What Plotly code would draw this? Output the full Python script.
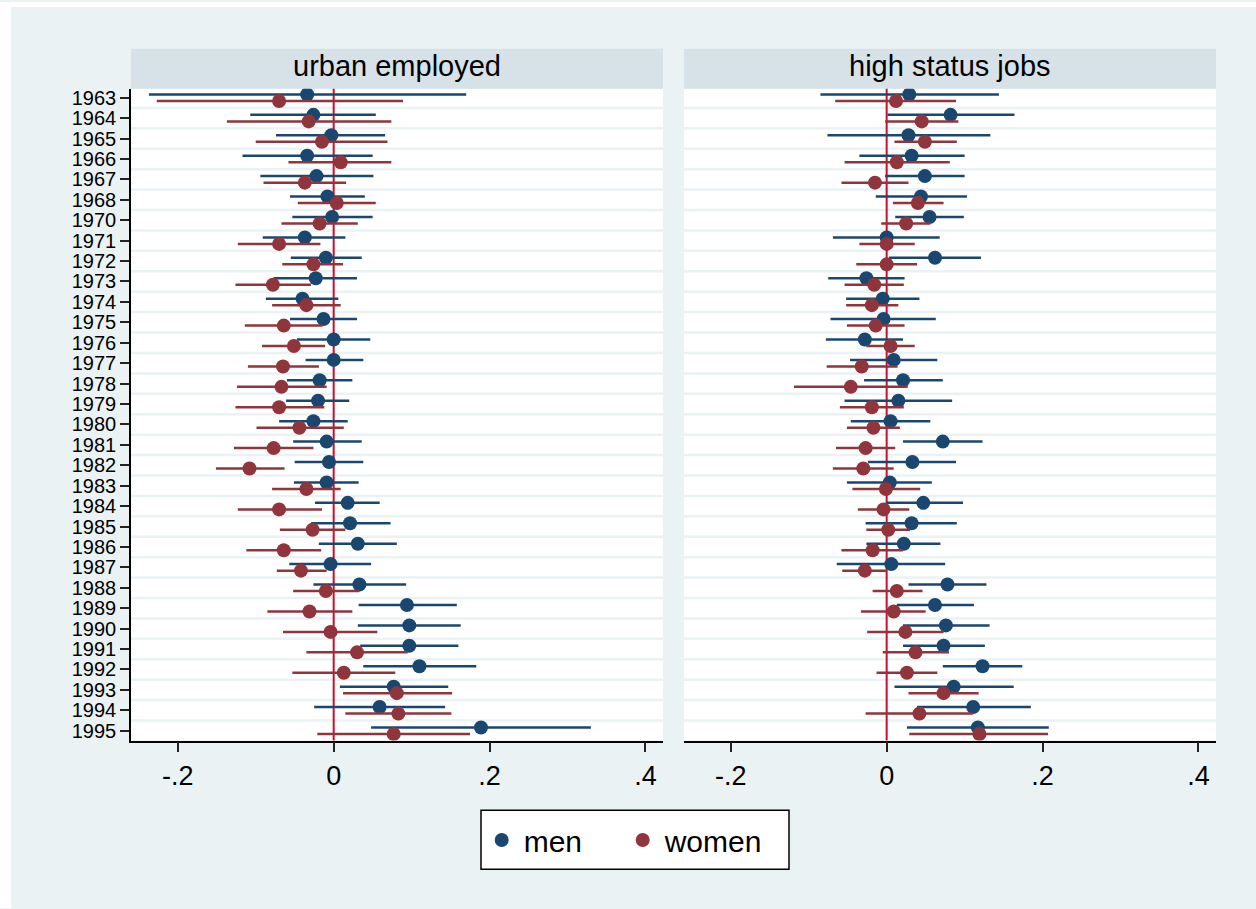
import plotly.graph_objects as go

# ---- data: coefficient estimates with confidence bounds by year ----
years = [1963, 1964, 1965, 1966, 1967, 1968, 1970, 1971, 1972, 1973, 1974,
         1975, 1976, 1977, 1978, 1979, 1980, 1981, 1982, 1983, 1984, 1985,
         1986, 1987, 1988, 1989, 1990, 1991, 1992, 1993, 1994, 1995]

# urban employed - men
urban_men = [-0.034, -0.026, -0.003, -0.034, -0.022, -0.008, -0.002, -0.037, -0.010, -0.023, -0.040,
             -0.013, 0.000, 0.000, -0.018, -0.020, -0.026, -0.009, -0.006, -0.009, 0.018, 0.021,
             0.031, -0.004, 0.033, 0.094, 0.097, 0.097, 0.110, 0.077, 0.059, 0.189]
urban_men_lo = [-0.237, -0.107, -0.074, -0.117, -0.094, -0.056, -0.053, -0.091, -0.055, -0.077, -0.087,
                -0.056, -0.047, -0.036, -0.060, -0.061, -0.070, -0.052, -0.050, -0.051, -0.024, -0.029,
                -0.019, -0.057, -0.026, 0.032, 0.031, 0.034, 0.038, 0.008, -0.025, 0.048]
urban_men_hi = [0.170, 0.054, 0.066, 0.050, 0.051, 0.040, 0.050, 0.015, 0.036, 0.030, 0.006,
                0.030, 0.047, 0.038, 0.024, 0.020, 0.018, 0.036, 0.038, 0.032, 0.059, 0.073,
                0.081, 0.048, 0.093, 0.158, 0.163, 0.160, 0.183, 0.147, 0.143, 0.330]

# urban employed - women
urban_women = [-0.070, -0.032, -0.015, 0.009, -0.037, 0.004, -0.018, -0.070, -0.026, -0.078, -0.035,
               -0.064, -0.051, -0.065, -0.067, -0.070, -0.044, -0.077, -0.108, -0.035, -0.070, -0.027,
               -0.064, -0.042, -0.010, -0.031, -0.004, 0.030, 0.013, 0.081, 0.083, 0.077]
urban_women_lo = [-0.227, -0.137, -0.100, -0.058, -0.090, -0.046, -0.067, -0.123, -0.066, -0.126, -0.079,
                  -0.114, -0.092, -0.110, -0.124, -0.126, -0.099, -0.128, -0.151, -0.079, -0.123, -0.069,
                  -0.112, -0.073, -0.052, -0.085, -0.065, -0.035, -0.053, 0.012, 0.015, -0.021]
urban_women_hi = [0.089, 0.074, 0.069, 0.074, 0.016, 0.054, 0.031, -0.017, 0.012, -0.029, 0.009,
                  -0.014, -0.011, -0.019, -0.009, -0.012, 0.013, -0.026, -0.063, 0.009, -0.015, 0.015,
                  -0.016, -0.009, 0.033, 0.024, 0.056, 0.095, 0.079, 0.152, 0.151, 0.175]

# high status jobs - men
status_men = [0.029, 0.082, 0.028, 0.032, 0.049, 0.044, 0.055, 0.000, 0.062, -0.026, -0.005,
              -0.004, -0.028, 0.009, 0.021, 0.015, 0.005, 0.072, 0.033, 0.004, 0.047, 0.032,
              0.022, 0.006, 0.078, 0.062, 0.076, 0.073, 0.123, 0.086, 0.111, 0.117]
status_men_lo = [-0.085, 0.001, -0.076, -0.035, -0.002, -0.014, 0.011, -0.069, 0.003, -0.075, -0.052,
                 -0.072, -0.078, -0.047, -0.029, -0.054, -0.046, 0.021, -0.024, -0.051, -0.001, -0.027,
                 -0.026, -0.064, 0.028, 0.013, 0.021, 0.021, 0.072, 0.010, 0.039, 0.026]
status_men_hi = [0.144, 0.164, 0.133, 0.100, 0.100, 0.103, 0.099, 0.068, 0.121, 0.023, 0.042,
                 0.063, 0.021, 0.065, 0.072, 0.084, 0.056, 0.123, 0.089, 0.058, 0.098, 0.090,
                 0.069, 0.075, 0.128, 0.112, 0.132, 0.126, 0.174, 0.163, 0.185, 0.208]

# high status jobs - women
status_women = [0.012, 0.045, 0.049, 0.013, -0.015, 0.040, 0.025, 0.000, 0.000, -0.016, -0.019,
                -0.014, 0.005, -0.032, -0.046, -0.019, -0.017, -0.027, -0.030, -0.001, -0.004, 0.002,
                -0.018, -0.028, 0.013, 0.009, 0.024, 0.037, 0.026, 0.073, 0.042, 0.119]
status_women_lo = [-0.066, -0.002, 0.010, -0.054, -0.058, 0.008, -0.007, -0.035, -0.039, -0.054, -0.052,
                   -0.051, -0.026, -0.077, -0.119, -0.060, -0.051, -0.065, -0.069, -0.044, -0.037, -0.026,
                   -0.058, -0.057, -0.018, -0.033, -0.025, -0.005, -0.013, 0.028, -0.027, 0.029]
status_women_hi = [0.089, 0.092, 0.090, 0.081, 0.028, 0.073, 0.056, 0.036, 0.039, 0.022, 0.015,
                   0.023, 0.036, 0.014, 0.027, 0.022, 0.017, 0.011, 0.009, 0.043, 0.029, 0.030,
                   0.021, 0.000, 0.046, 0.050, 0.073, 0.080, 0.065, 0.118, 0.111, 0.207]

panel_titles = ["urban employed", "high status jobs"]
x_ticks = [-0.2, 0.0, 0.2, 0.4]
x_tick_labels = ["-.2", "0", ".2", ".4"]

# ---- styling ----
W, H = 1256, 909
FONT = "Liberation Sans, Arial, Helvetica, sans-serif"
NAVY = "#1A476F"
MAROON = "#90353B"
REFLINE = "#C8102E"
BG = "#EAF2F3"
STRIP = "#D6E2E7"


def fx(p):
    return p / W


def fy(p):
    return 1 - p / H


rows = list(range(len(years)))
OFFSET = 0.16

panels = [
    ("x", "y", (urban_men, urban_men_lo, urban_men_hi), (urban_women, urban_women_lo, urban_women_hi)),
    ("x2", "y2", (status_men, status_men_lo, status_men_hi), (status_women, status_women_lo, status_women_hi)),
]

fig = go.Figure()
for p, (xa, ya, men, women) in enumerate(panels):
    for name, color, (est, lo, hi), off in (("men", NAVY, men, -OFFSET),
                                            ("women", MAROON, women, OFFSET)):
        fig.add_trace(go.Scatter(
            x=est,
            y=[r + off for r in rows],
            mode="markers",
            name=name,
            legendgroup=name,
            showlegend=(p == 0),
            marker=dict(color=color, size=14, line=dict(width=0)),
            error_x=dict(type="data", symmetric=False,
                         array=[h - e for e, h in zip(est, hi)],
                         arrayminus=[e - l for e, l in zip(est, lo)],
                         color=color, thickness=2.5, width=0),
            xaxis=xa, yaxis=ya,
            hoverinfo="skip",
        ))

x_range = [-0.26, 0.4225]
y_range = [len(years) - 0.52, -0.44]

xcommon = dict(range=x_range, tickmode="array", tickvals=x_ticks, ticktext=x_tick_labels,
               showline=True, linecolor="black", linewidth=1.5,
               ticks="outside", ticklen=10, tickwidth=1.5, tickcolor="#222222",
               showgrid=False, zeroline=False,
               tickfont=dict(family=FONT, size=27, color="black"))
ycommon = dict(range=y_range, showgrid=False, zeroline=False)

shapes = [
    # white margins around the light graph region
    dict(type="rect", xref="paper", yref="paper", x0=0, x1=1, y0=fy(5), y1=1,
         fillcolor="white", line=dict(width=0), layer="below"),
    dict(type="rect", xref="paper", yref="paper", x0=0, x1=fx(11), y0=0, y1=1,
         fillcolor="white", line=dict(width=0), layer="below"),
    # panel header strips
    dict(type="rect", xref="paper", yref="paper", x0=fx(131), x1=fx(663), y0=fy(87), y1=fy(47),
         fillcolor=STRIP, line=dict(width=0), layer="below"),
    dict(type="rect", xref="paper", yref="paper", x0=fx(684), x1=fx(1216), y0=fy(87), y1=fy(47),
         fillcolor=STRIP, line=dict(width=0), layer="below"),
    # legend box
    dict(type="rect", xref="paper", yref="paper", x0=fx(481), x1=fx(789), y0=fy(870), y1=fy(811),
         fillcolor="white", line=dict(color="black", width=1.5), layer="below"),
]
for xa, ya in (("x", "y"), ("x2", "y2")):
    # light separators between year rows
    for r in rows[:-1]:
        shapes.append(dict(type="line", xref=xa + " domain", yref=ya, x0=0, x1=1,
                           y0=r + 0.5, y1=r + 0.5,
                           line=dict(color=BG, width=2.5), layer="below"))
    # reference line at zero
    shapes.append(dict(type="line", xref=xa, yref=ya + " domain", x0=0, x1=0, y0=0, y1=1,
                       line=dict(color=REFLINE, width=2), layer="below"))

annotations = [
    dict(text=panel_titles[0], xref="paper", yref="paper", x=fx(397), y=fy(64),
         xanchor="center", yanchor="middle", showarrow=False,
         font=dict(family=FONT, size=29, color="black")),
    dict(text=panel_titles[1], xref="paper", yref="paper", x=fx(950), y=fy(64),
         xanchor="center", yanchor="middle", showarrow=False,
         font=dict(family=FONT, size=29, color="black")),
]

fig.update_layout(
    width=W, height=H,
    margin=dict(l=0, r=0, t=0, b=0),
    paper_bgcolor=BG,
    plot_bgcolor="white",
    font=dict(family=FONT, color="black"),
    xaxis=dict(domain=[fx(131), fx(663)], anchor="y", **xcommon),
    xaxis2=dict(domain=[fx(684), fx(1216)], anchor="y2", **xcommon),
    yaxis=dict(domain=[fy(741), fy(87)], anchor="x",
               tickmode="array", tickvals=rows, ticktext=[str(y) for y in years],
               showline=True, linecolor="black", linewidth=1.5,
               ticks="outside", ticklen=9, tickwidth=1.5, tickcolor="#222222",
               tickfont=dict(family=FONT, size=20, color="black"),
               **ycommon),
    yaxis2=dict(domain=[fy(741), fy(87)], anchor="x2",
                showticklabels=False, showline=False, ticks="", **ycommon),
    shapes=shapes,
    annotations=annotations,
    showlegend=True,
    legend=dict(orientation="h", x=fx(479.7), xanchor="left", y=fy(840.7), yanchor="middle",
                bgcolor="rgba(0,0,0,0)", borderwidth=0, itemwidth=34,
                entrywidth=92, entrywidthmode="pixels",
                font=dict(family=FONT, size=30, color="black")),
)

fig.write_html("out.html")
